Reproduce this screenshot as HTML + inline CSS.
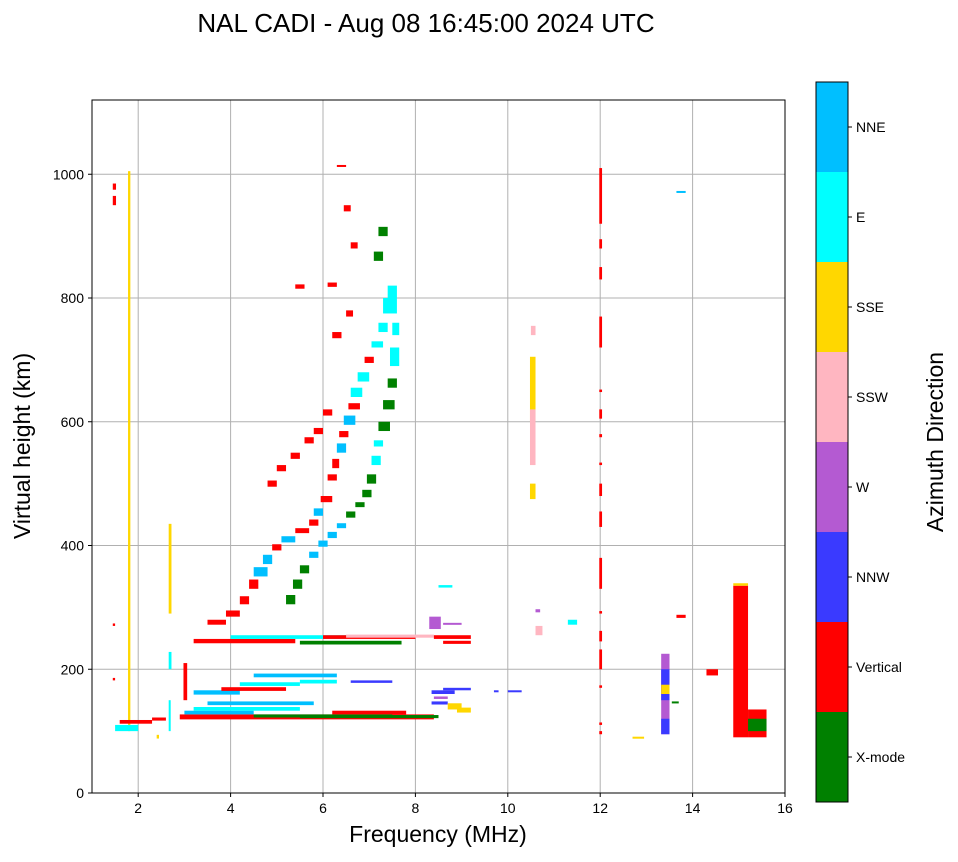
<!DOCTYPE html>
<html><head><meta charset="utf-8"><style>
body{margin:0;background:#fff;font-family:"Liberation Sans",sans-serif}
</style></head><body>
<svg id="s" width="958" height="857" xmlns="http://www.w3.org/2000/svg">
<text x="426" y="32" font-size="26" text-anchor="middle">NAL CADI - Aug 08 16:45:00 2024 UTC</text>
<g id="grid"></g><g id="marks"></g><g id="axes"></g><g id="cbar"></g>
</svg>
<script>
const xTicks=[2,4,6,8,10,12,14,16];
const yTicks=[0,200,400,600,800,1000];
const cats=["X-mode","Vertical","NNW","W","SSW","SSE","E","NNE"];
const catColors=["#008000","#ff0000","#3a3aff","#b45ad2","#ffb6c1","#ffd700","#00ffff","#00bfff"];
// runs: [freqStart, freqEnd, heightStart, heightEnd, categoryIndex]
const runs=[
[1.78,1.83,100,1005,5],[1.45,1.52,950,965,1],[1.45,1.52,975,985,1],[1.45,1.5,270,274,1],[1.45,1.5,182,186,1],
[1.5,2.0,100,110,6],[1.6,2.3,112,118,1],[2.3,2.6,117,122,1],[2.4,2.45,88,94,5],
[2.66,2.72,290,435,5],[2.66,2.72,200,228,6],[2.66,2.7,100,150,6],
[2.9,8.4,119,127,1],[3.0,4.5,127,133,7],[3.2,5.5,133,139,6],[4.5,7.5,122,127,0],
[5.5,8.5,121,126,0],[6.2,7.8,127,133,1],[3.5,5.8,142,148,7],[2.98,3.06,150,210,1],
[3.2,4.2,159,166,7],[3.8,5.2,165,171,1],[4.2,5.5,173,179,6],[4.5,6.3,187,193,7],
[5.5,6.3,177,183,6],[6.6,7.5,178,182,2],
[3.2,5.4,242,249,1],[4.0,6.5,249,255,6],[5.5,7.7,240,246,0],[6.0,8.0,249,255,1],
[6.5,8.4,251,256,4],[8.4,9.2,249,255,1],[8.6,9.2,241,246,1],[8.3,8.55,265,285,3],[8.6,9.0,272,275,3],
[3.5,3.9,272,280,1],[3.9,4.2,285,295,1],[4.2,4.4,305,318,1],[4.4,4.6,330,345,1],[4.5,4.8,350,365,7],
[4.7,4.9,370,385,7],[4.9,5.1,392,402,1],[5.1,5.4,405,415,7],[5.4,5.7,420,428,1],[5.7,5.9,432,442,1],[5.8,6.0,448,460,7],
[5.95,6.2,470,480,1],[6.1,6.3,505,515,1],[6.2,6.35,525,540,1],[6.3,6.5,550,565,7],[6.35,6.55,575,585,1],[6.45,6.7,595,610,7],
[6.55,6.8,620,630,1],[6.6,6.85,640,655,6],[6.75,7.0,665,680,6],[6.9,7.1,695,705,1],[7.05,7.3,720,730,6],[7.2,7.4,745,760,6],[7.3,7.6,775,800,6],
[5.2,5.4,305,320,0],[5.35,5.55,330,345,0],[5.5,5.7,355,368,0],[5.7,5.9,380,390,7],[5.9,6.1,398,408,7],[6.1,6.3,412,422,7],[6.3,6.5,428,436,7],
[6.5,6.7,445,455,0],[6.7,6.9,462,470,0],[6.85,7.05,478,490,0],[6.95,7.15,500,515,0],[7.05,7.25,530,545,6],[7.1,7.3,560,570,6],[7.2,7.45,585,600,0],[7.3,7.55,620,635,0],[7.4,7.6,655,670,0],
[7.45,7.65,690,720,6],[7.5,7.65,740,760,6],[7.4,7.6,800,820,6],[7.1,7.3,860,875,0],[7.2,7.4,900,915,0],[6.45,6.6,940,950,1],
[4.8,5.0,495,505,1],[5.0,5.2,520,530,1],[5.3,5.5,540,550,1],[5.6,5.8,565,575,1],[5.8,6.0,580,590,1],[6.0,6.2,610,620,1],[6.2,6.4,735,745,1],[6.5,6.65,770,780,1],
[5.4,5.6,815,822,1],[6.1,6.3,818,825,1],[6.6,6.75,880,890,1],[6.3,6.5,1012,1015,1],
[8.35,8.85,160,166,2],[8.6,9.2,166,170,2],[8.35,8.7,143,148,2],[8.7,9.0,135,145,5],
[8.9,9.2,130,138,5],[8.4,8.7,152,156,3],[8.5,8.8,332,336,6],
[10.48,10.6,600,705,5],[10.48,10.6,530,620,4],[10.48,10.6,475,500,5],[10.5,10.6,740,755,4],
[10.6,10.75,255,270,4],[10.6,10.7,292,297,3],[11.3,11.5,272,280,6],
[11.98,12.04,95,100,1],[11.98,12.04,110,114,1],[11.98,12.04,170,174,1],[11.98,12.04,200,232,1],[11.98,12.04,245,262,1],[11.98,12.04,290,294,1],
[11.98,12.04,330,380,1],[11.98,12.04,430,455,1],[11.98,12.04,480,500,1],[11.98,12.04,530,534,1],[11.98,12.04,575,580,1],[11.98,12.04,605,620,1],
[11.98,12.04,648,652,1],[11.98,12.04,720,770,1],[11.98,12.04,830,850,1],[11.98,12.04,880,895,1],[11.98,12.04,920,1010,1],
[13.32,13.5,95,225,3],[13.32,13.5,150,200,2],[13.32,13.5,95,120,2],[13.32,13.5,160,175,5],[13.55,13.7,145,148,0],
[13.65,13.85,283,288,1],[13.65,13.85,970,973,7],[14.3,14.55,190,200,1],
[14.88,15.2,90,335,1],[14.88,15.2,335,339,5],[15.2,15.6,90,135,1],[15.2,15.6,100,120,0],
[12.7,12.95,88,91,5],[10.0,10.3,163,166,2],[9.7,9.8,163,166,2]
];
const L=92,R=785,T=100,B=793,X0=1,X1=16,Y0=0,Y1=1120;
const sx=v=>L+(v-X0)/(X1-X0)*(R-L), sy=v=>B-(v-Y0)/(Y1-Y0)*(B-T);
const NS="http://www.w3.org/2000/svg";
function mk(t,a,p){const e=document.createElementNS(NS,t);for(const k in a)e.setAttribute(k,a[k]);p.appendChild(e);return e;}
const grid=document.getElementById('grid'),marks=document.getElementById('marks'),axes=document.getElementById('axes'),cb=document.getElementById('cbar');
xTicks.forEach(v=>{const x=sx(v);
 if(v<16){const g=mk('line',{x1:x,x2:x,y1:T,y2:B,stroke:'#b0b0b0','stroke-width':1},grid);
 
 }
 mk('line',{x1:x,x2:x,y1:B,y2:B+4,stroke:'#000'},axes);
 const t=mk('text',{x:x,y:B+20,'font-size':14,'text-anchor':'middle'},axes);t.textContent=v;
 
 });
yTicks.forEach(v=>{const y=sy(v);
 const g=mk('line',{x1:L,x2:R,y1:y,y2:y,stroke:'#b0b0b0','stroke-width':1},grid);
 
 
 mk('line',{x1:L-4,x2:L,y1:y,y2:y,stroke:'#000'},axes);
 const t=mk('text',{x:L-8,y:y+5,'font-size':14,'text-anchor':'end'},axes);t.textContent=v;
 
 });
runs.forEach(r=>{const x=sx(r[0]),w=Math.max(2,sx(r[1])-x),y=sy(r[3]),h=Math.max(2,sy(r[2])-y);
 const e=mk('rect',{x:x,y:y,width:w,height:h,fill:catColors[r[4]]},marks);
 
 });
const fr=mk('rect',{x:L,y:T,width:R-L,height:B-T,fill:'none',stroke:'#000'},axes);


let t=mk('text',{x:438,y:842,'font-size':23,'text-anchor':'middle'},axes);t.textContent='Frequency (MHz)';


t=mk('text',{x:30,y:446,'font-size':23,'text-anchor':'middle',transform:'rotate(-90 30 446)'},axes);t.textContent='Virtual height (km)';


const cT=82,cB=802,cL=816,cW=32,seg=(cB-cT)/cats.length;
cats.forEach((c,i)=>{const y=cB-(i+1)*seg;
 const e=mk('rect',{x:cL,y:y,width:cW,height:seg,fill:catColors[i]},cb);
 
 
 mk('line',{x1:cL+cW,x2:cL+cW+4,y1:y+seg/2,y2:y+seg/2,stroke:'#000'},cb);
 const l=mk('text',{x:cL+cW+8,y:y+seg/2+5,'font-size':14},cb);l.textContent=c;
 
 });
mk('rect',{x:cL,y:cT,width:cW,height:cB-cT,fill:'none',stroke:'#000'},cb);
t=mk('text',{x:943,y:442,'font-size':23,'text-anchor':'middle',transform:'rotate(-90 943 442)'},cb);t.textContent='Azimuth Direction';


</script>
</body></html>
